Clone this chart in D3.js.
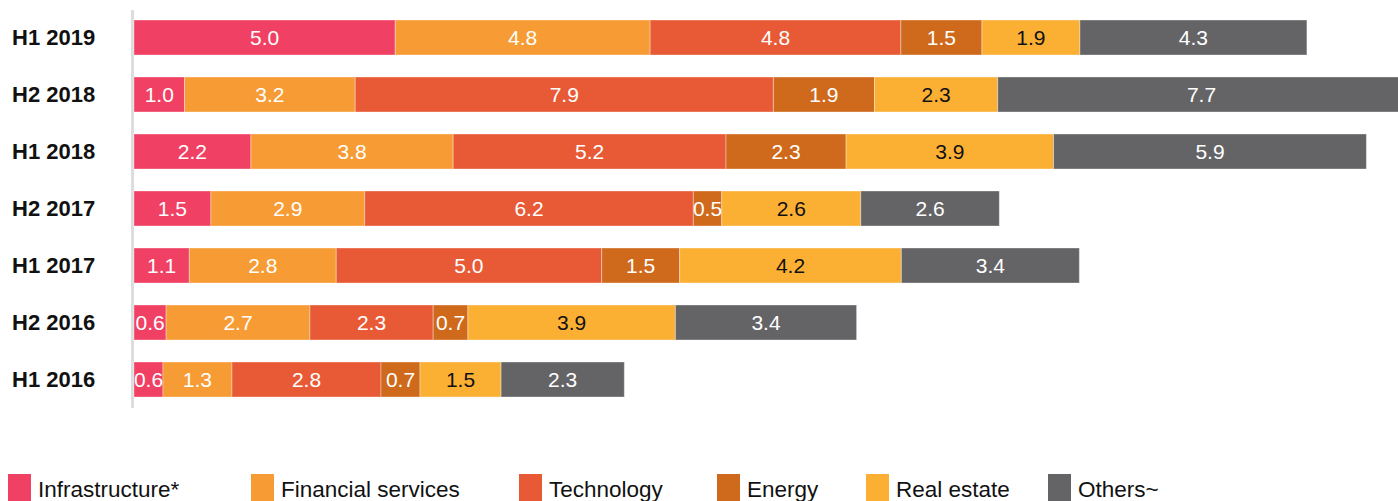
<!DOCTYPE html>
<html>
<head>
<meta charset="utf-8">
<script src="https://cdn.jsdelivr.net/npm/d3@7"></script>
<style>
  html, body { margin: 0; padding: 0; background: #fff; overflow: hidden; }
  svg { display: block; }
  text { font-family: "Liberation Sans", Arial, Helvetica, sans-serif; }
</style>
</head>
<body>
<svg id="chart" width="1398" height="501"></svg>
<script>
const periods = ["H1 2019", "H2 2018", "H1 2018", "H2 2017", "H1 2017", "H2 2016", "H1 2016"];
const sectors = ["Infrastructure*", "Financial services", "Technology", "Energy", "Real estate", "Others~"];
// values (labels shown rounded to one decimal)
const infrastructure = [4.96, 0.96, 2.22, 1.46, 1.05, 0.61, 0.55];
const financial      = [4.84, 3.24, 3.84, 2.92, 2.79, 2.73, 1.31];
const technology     = [4.76, 7.94, 5.18, 6.24, 5.04, 2.34, 2.83];
const energy         = [1.54, 1.92, 2.28, 0.54, 1.48, 0.66, 0.74];
const realEstate     = [1.86, 2.34, 3.94, 2.64, 4.21, 3.94, 1.54];
const others         = [4.31, 7.74, 5.94, 2.63, 3.38, 3.44, 2.34];
const colors = ["#F04063", "#F79B35", "#E85A36", "#CF6A1C", "#FBB034", "#646466"];
const labelColors = ["#fff", "#fff", "#fff", "#fff", "#111", "#fff"];
const legendX = [8, 251, 519, 717, 866, 1048];

const seriesValues = [infrastructure, financial, technology, energy, realEstate, others];
const rows = periods.map((p, i) => {
  const r = { period: p };
  sectors.forEach((s, j) => r[s] = seriesValues[j][i]);
  return r;
});
const stacked = d3.stack().keys(sectors)(rows);

const svg = d3.select("#chart");
const x = d3.scaleLinear().domain([0, 24]).range([134, 1398]);
const y = d3.scaleBand().domain(periods).range([9, 408]).paddingInner(0.386).paddingOuter(0.193);
const color = d3.scaleOrdinal().domain(sectors).range(colors);

// axis line
svg.append("line")
  .attr("x1", 132.5).attr("x2", 132.5)
  .attr("y1", 10).attr("y2", 408)
  .attr("stroke", "#dddddd").attr("stroke-width", 3);

const groups = svg.selectAll("g.series").data(stacked).join("g").attr("class", "series");
groups.selectAll("rect").data(d => d.map(v => ({ v, key: d.key })))
  .join("rect")
  .attr("x", d => x(d.v[0]))
  .attr("y", d => y(d.v.data.period))
  .attr("width", d => x(d.v[1]) - x(d.v[0]))
  .attr("height", y.bandwidth())
  .attr("fill", d => color(d.key))
  .attr("stroke", "#ffffff").attr("stroke-opacity", 0.35).attr("stroke-width", 1);

groups.each(function(d, j) {
  d3.select(this).selectAll("text").data(d)
    .join("text")
    .attr("x", v => (x(v[0]) + x(v[1])) / 2)
    .attr("y", v => y(v.data.period) + y.bandwidth() / 2)
    .attr("dy", "0.36em")
    .attr("text-anchor", "middle")
    .attr("font-size", 21)
    .attr("fill", labelColors[j])
    .text(v => d3.format(".1f")(v[1] - v[0]));
});

// y labels
svg.selectAll("text.ylab").data(periods).join("text")
  .attr("class", "ylab")
  .attr("x", 12)
  .attr("y", p => y(p) + y.bandwidth() / 2)
  .attr("dy", "0.36em")
  .attr("font-size", 22)
  .attr("font-weight", "bold")
  .attr("fill", "#111")
  .text(p => p);

// legend
const leg = svg.selectAll("g.leg").data(sectors).join("g").attr("class", "leg")
  .attr("transform", (d, i) => `translate(${legendX[i]},474)`);
leg.append("rect").attr("width", 23).attr("height", 30).attr("fill", d => color(d));
leg.append("text").attr("x", 30).attr("y", 23).attr("font-size", 22.5).attr("fill", "#111").text(d => d);
</script>
</body>
</html>
